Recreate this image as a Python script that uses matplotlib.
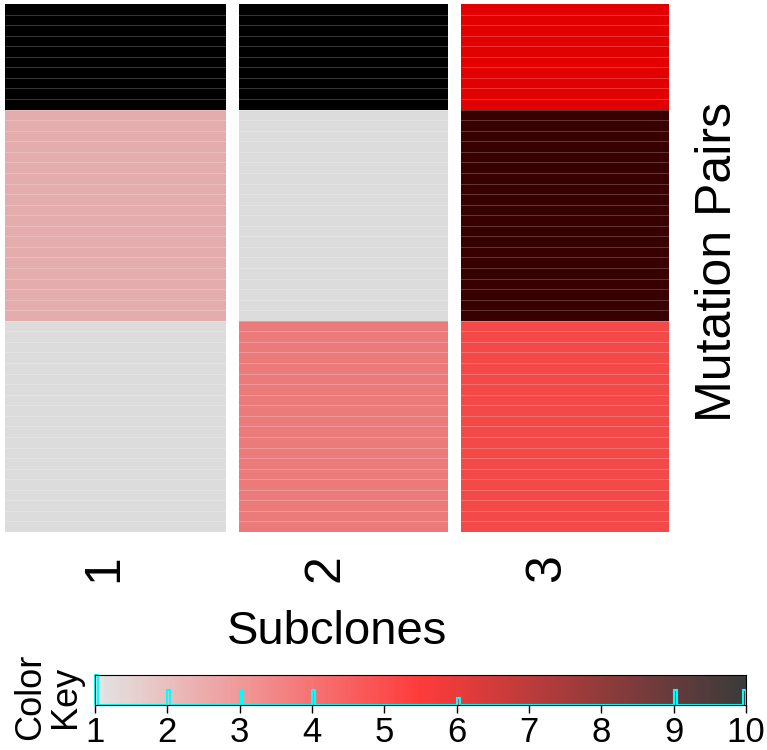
import numpy as np
import matplotlib
matplotlib.use("Agg")
import matplotlib.pyplot as plt
from matplotlib.colors import LinearSegmentedColormap

plt.rcParams['font.family'] = ['Liberation Sans', 'DejaVu Sans']

# data: value for each mutation pair (rows, top to bottom) in each subclone
subclones = ['1', '2', '3']
subclone_1 = [10] * 10 + [2] * 20 + [1] * 20
subclone_2 = [10] * 10 + [1] * 20 + [3] * 20
subclone_3 = [6] * 10 + [9] * 20 + [4] * 20
key_ticks = [1, 2, 3, 4, 5, 6, 7, 8, 9, 10]

vals = np.array([subclone_1, subclone_2, subclone_3]).T
nrow, ncol = vals.shape
vmin, vmax = 1, 10

cmap = LinearSegmentedColormap.from_list('gr_red_blk', ['gainsboro', 'red', 'black'])

fig = plt.figure(figsize=(7.67, 7.5), dpi=100)

# heatmap
ax = fig.add_axes([5 / 767, 1 - 532 / 750, 664 / 767, 528 / 750])
ax.pcolormesh(np.arange(0.5, ncol + 1), np.arange(0, nrow + 1), vals,
              cmap=cmap, vmin=vmin, vmax=vmax)
ax.hlines(np.arange(1, nrow), 0.5, ncol + 0.5, color='white', lw=0.6, alpha=0.25)
sep = 13 / 221.3
for c in range(1, ncol):
    ax.axvspan(c + 0.5, c + 0.5 + sep, color='white', lw=0)
ax.set_xlim(0.5, ncol + 0.5)
ax.set_ylim(nrow, 0)
for s in ax.spines.values():
    s.set_visible(False)
ax.set_yticks([])
ax.set_xticks(np.arange(1, ncol + 1) - 0.05)
ax.set_xticklabels(subclones, rotation=90, fontsize=36, va='top')
ax.tick_params(axis='x', length=0, pad=16)
ax.set_xlabel('Subclones', fontsize=34, labelpad=20)
fig.text(718 / 767, 1 - 262 / 750, 'Mutation Pairs', rotation=90,
         fontsize=36, ha='center', va='center')

# color key
kax = fig.add_axes([95 / 767, 45 / 750, 651 / 767, 30 / 750])
grad = np.linspace(vmin, vmax, 300).reshape(1, -1)
kax.imshow(grad, cmap=cmap, vmin=vmin, vmax=vmax, aspect='auto', alpha=0.77,
           extent=[vmin, vmax, 0, 1], interpolation='nearest')
edges = np.linspace(vmin, vmax, 226)
counts, _ = np.histogram(vals.ravel(), bins=edges)
kax.stairs(counts / counts.max(), edges, baseline=0, color='#00ffff', lw=1.5,
           clip_on=False)
kax.set_xlim(vmin, vmax)
kax.set_ylim(0, 1)
kax.set_yticks([])
kax.set_xticks(key_ticks)
kax.set_xticklabels([str(t) for t in key_ticks], fontsize=25)
kax.tick_params(axis='x', length=6, width=1, pad=2)
for s in kax.spines.values():
    s.set_linewidth(0.8)
fig.text(48 / 767, 1 - 697 / 750, 'Color\nKey', rotation=90, fontsize=26,
         ha='center', va='center', multialignment='center', linespacing=1.0)

fig.savefig('out.png', dpi=100)
